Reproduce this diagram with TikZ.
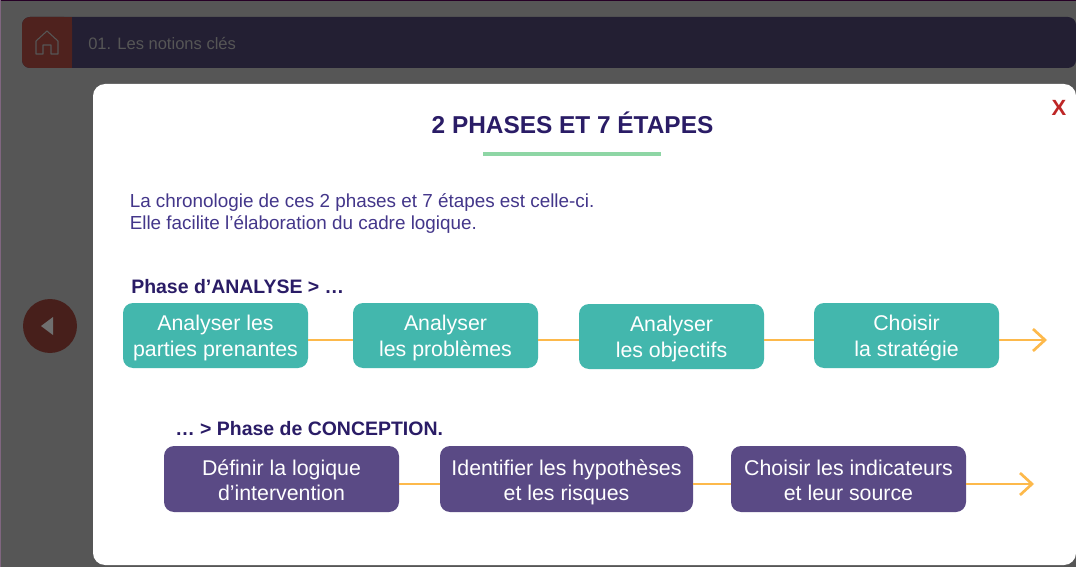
\documentclass[tikz,border=0pt]{standalone}
\usepackage{fontspec}
\setmainfont{Liberation Sans}
\usetikzlibrary{arrows.meta}
\definecolor{backgrey}{HTML}{565656}
\definecolor{barnavy}{HTML}{231F33}
\definecolor{homered}{HTML}{4F221E}
\definecolor{inkviolet}{HTML}{2A1C66}
\definecolor{bodyviolet}{HTML}{43368A}
\definecolor{tealbox}{HTML}{43B7AD}
\definecolor{violetbox}{HTML}{5A4A85}
\definecolor{linkorange}{HTML}{FDB94B}
\definecolor{rulegreen}{HTML}{8ED6A5}
\newcommand{\boxstrut}{\rule[-3.5pt]{0pt}{39pt}}
\tikzstyle{analysis} = [rectangle, fill=tealbox, text=white, rounded corners=7.5pt, minimum width=138.75pt, minimum height=48.75pt, align=center, font=\fontsize{16}{19.5}\selectfont, inner sep=0pt, execute at begin node=\boxstrut]
\tikzstyle{design} = [rectangle, fill=violetbox, text=white, rounded corners=7.5pt, minimum height=49.5pt, align=center, font=\fontsize{16}{19}\selectfont, inner sep=0pt, execute at begin node=\boxstrut]
\tikzstyle{link} = [line width=2pt, linkorange]
\tikzstyle{arrow} = [link, -{Straight Barb[length=9pt, width=16.5pt, line width=2pt]}]
\tikzstyle{phase} = [anchor=west, inner sep=0pt, text=inkviolet, font=\fontsize{14.6}{18}\selectfont\bfseries]
\begin{document}
\begin{tikzpicture}[x=0.75pt, y=-0.75pt, node distance=172.5pt]

% page behind the pop-up
\path [use as bounding box, fill=backgrey] (0,0) rectangle (1076,567);
\fill [fill=black!70!violet] (0,0) rectangle (1076,1);
\fill [fill=violet!20!gray] (0,0) rectangle (1,567);
\fill [barnavy, rounded corners=6pt] (22,17) rectangle (1076,68);
\fill [homered, rounded corners=6pt] (22,17) -- (72,17) -- (72,68) -- (22,68) -- cycle;
\fill [homered] (40,17) rectangle (72,68);
\draw [backgrey, line width=0.8pt, line join=round] (36,41) -- (47,31) -- (58,41) -- (58,54) -- (51,54) -- (51,45) -- (43,45) -- (43,54) -- (36,54) -- cycle;
\node (menu) [anchor=west, inner sep=0pt, text=backgrey, font=\fontsize{12.4}{14}\selectfont] at (88,43) {01. Les notions clés};
\fill [fill=homered!90!black] (50,326) circle [radius=27];
\fill [backgrey!85!white] (41,326) -- (53,317) -- (53,335) -- cycle;

% pop-up
\fill [white, rounded corners=9pt] (93,84) rectangle (1076,565);
\node (close) [text=red!70!black!85!white, font=\fontsize{16.5}{18}\selectfont\bfseries, inner sep=0pt] at (1059,108) {X};
\node (title) [text=inkviolet, font=\fontsize{18.3}{22}\selectfont\bfseries, inner sep=0pt] at (572.5,122.5) {2 PHASES ET 7 ÉTAPES};
\draw [rulegreen, line width=2.6pt] (483,154) -- (661,154);
\node (intro) [anchor=north west, inner sep=0pt, align=left, text=bodyviolet, font=\fontsize{14.15}{17}\selectfont] at (129.5,193) {La chronologie de ces 2 phases et 7 étapes est celle-ci.\\Elle facilite l’élaboration du cadre logique.};

\node (phase1) [phase] at (131,286.5) {Phase d’ANALYSE > …};
\node (phase2) [phase] at (175,428.5) {… > Phase de CONCEPTION.};

% first row
\node (ana1) [analysis] at (215.5,335.5) {Analyser les\\parties prenantes};
\node (ana2) [analysis, right of=ana1] {Analyser\\les problèmes};
\node (ana3) [analysis, right of=ana2, xshift=-3pt, yshift=-0.75pt] {Analyser\\les objectifs};
\node (ana4) [analysis, right of=ana3, xshift=3.75pt, yshift=0.75pt] {Choisir\\la stratégie};
\coordinate (endA) at (1047,340);

% second row
\node (con1) [design, minimum width=176.25pt] at (281.5,479) {Définir la logique\\d’intervention};
\node (con2) [design, minimum width=189.75pt, right of=con1, xshift=41.25pt] {Identifier les hypothèses\\et les risques};
\node (con3) [design, minimum width=176.25pt, right of=con2, xshift=39pt] {Choisir les indicateurs\\et leur source};
\coordinate (endB) at (1034,484);

\draw [link] (ana1.east |- endA) -- (ana2.west |- endA);
\draw [link] (ana2.east |- endA) -- (ana3.west |- endA);
\draw [link] (ana3.east |- endA) -- (ana4.west |- endA);
\draw [arrow] (ana4.east |- endA) -- (endA);
\draw [link] (con1.east |- endB) -- (con2.west |- endB);
\draw [link] (con2.east |- endB) -- (con3.west |- endB);
\draw [arrow] (con3.east |- endB) -- (endB);

\end{tikzpicture}
\end{document}
